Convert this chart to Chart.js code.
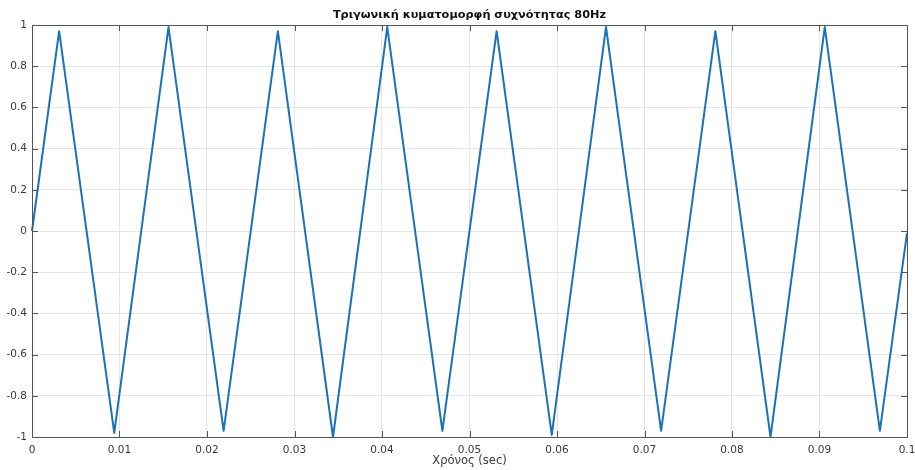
<!DOCTYPE html>
<html>
<head>
<meta charset="utf-8">
<script src="https://cdn.jsdelivr.net/npm/chart.js@4"></script>
<style>
  html, body { margin: 0; padding: 0; background: #ffffff; }
  #wrap { width: 915px; height: 470px; }
</style>
</head>
<body>
<div id="wrap"><canvas id="waveChart" width="915" height="470"></canvas></div>
<script>
// Values: corners of the triangle wave
const timeSec = [0, 0.0031, 0.0094, 0.0156, 0.0219, 0.0281, 0.0344, 0.0406, 0.0469,
                 0.0531, 0.0594, 0.0656, 0.0719, 0.0781, 0.0844, 0.0906, 0.0969, 0.1];
const amplitude = [0, 0.97, -0.98, 0.99, -0.97, 0.97, -1.0, 0.99, -0.97,
                   0.97, -0.99, 0.99, -0.97, 0.97, -1.0, 0.99, -0.97, -0.01];
const xTicks = [0, 0.01, 0.02, 0.03, 0.04, 0.05, 0.06, 0.07, 0.08, 0.09, 0.1];
const yTicks = [-1, -0.8, -0.6, -0.4, -0.2, 0, 0.2, 0.4, 0.6, 0.8, 1];
const chartTitle = 'Τριγωνική κυματομορφή συχνότητας 80Hz';
const xTitle = 'Χρόνος (sec)';

document.addEventListener('DOMContentLoaded', function () {
    const canvas = document.getElementById('waveChart');
    const ctx = canvas.getContext('2d');

    const points = timeSec.map((t, i) => ({ x: t, y: amplitude[i] }));

    // box round the plot and small ticks pointing inwards (matlab style)
    const boxTicks = {
        id: 'boxTicks',
        afterDatasetsDraw(chart) {
            const a = chart.chartArea;
            const c = chart.ctx;
            const xs = chart.scales.x, ys = chart.scales.y;
            c.save();
            c.strokeStyle = '#555555';
            c.lineWidth = 1;
            c.beginPath();
            xTicks.forEach(v => {
                const px = Math.round(xs.getPixelForValue(v)) + 0.5;
                c.moveTo(px, a.bottom); c.lineTo(px, a.bottom - 6);
                c.moveTo(px, a.top); c.lineTo(px, a.top + 6);
            });
            yTicks.forEach(v => {
                const py = Math.round(ys.getPixelForValue(v)) + 0.5;
                c.moveTo(a.left, py); c.lineTo(a.left + 6, py);
                c.moveTo(a.right, py); c.lineTo(a.right - 6, py);
            });
            c.stroke();
            c.strokeRect(Math.round(a.left) + 0.5, Math.round(a.top) + 0.5,
                         Math.round(a.right - a.left), Math.round(a.bottom - a.top));
            c.restore();
        }
    };

    new Chart(ctx, {
        type: 'scatter',
        data: {
            datasets: [{
                data: points,
                showLine: true,
                borderColor: '#1a72b8',
                borderWidth: 2,
                pointRadius: 0,
                tension: 0,
                borderJoinStyle: 'round',
                clip: false
            }]
        },
        options: {
            responsive: false,
            animation: false,
            layout: { padding: { left: 0, right: 0, top: 0, bottom: 0 } },
            plugins: {
                legend: { display: false },
                tooltip: { enabled: false },
                title: { display: false }
            },
            scales: {
                x: {
                    type: 'linear',
                    min: 0,
                    max: 0.1,
                    afterBuildTicks(axis) { axis.ticks = xTicks.map(v => ({ value: v })); },
                    afterFit(axis) {
                        axis.height = 33;
                        axis.paddingLeft = 0;
                        axis.paddingRight = 8;
                    },
                    grid: { color: '#e6e6e6', drawTicks: false },
                    border: { display: false },
                    ticks: {
                        padding: 7,
                        color: '#3a3a3a',
                        font: { family: 'DejaVu Sans', size: 10.5 },
                        callback: v => String(Number(v.toFixed(2)))
                    },
                    title: {
                        display: true,
                        text: xTitle,
                        color: '#3a3a3a',
                        font: { family: 'DejaVu Sans', size: 11.5 },
                        padding: { top: 0, bottom: 2 }
                    }
                },
                // top axis only carries the title, so it is centred over the plot
                xTop: {
                    type: 'linear',
                    position: 'top',
                    min: 0,
                    max: 0.1,
                    afterFit(axis) {
                        axis.height = 25;
                        axis.paddingLeft = 0;
                        axis.paddingRight = 8;
                    },
                    grid: { display: false },
                    border: { display: false },
                    ticks: { display: false },
                    title: {
                        display: true,
                        text: chartTitle,
                        color: '#111111',
                        font: { family: 'DejaVu Sans', size: 11.3, weight: 'bold' },
                        padding: { top: 8, bottom: 4 }
                    }
                },
                y: {
                    min: -1,
                    max: 1,
                    afterBuildTicks(axis) { axis.ticks = yTicks.map(v => ({ value: v })); },
                    afterFit(axis) {
                        axis.width = 32;
                        axis.paddingTop = 0;
                        axis.paddingBottom = 0;
                    },
                    grid: { color: '#e6e6e6', drawTicks: false },
                    border: { display: false },
                    ticks: {
                        padding: 5,
                        color: '#3a3a3a',
                        font: { family: 'DejaVu Sans', size: 10.5 },
                        callback: v => String(Number(v.toFixed(1)))
                    }
                }
            }
        },
        plugins: [boxTicks]
    });
});
</script>
</body>
</html>
